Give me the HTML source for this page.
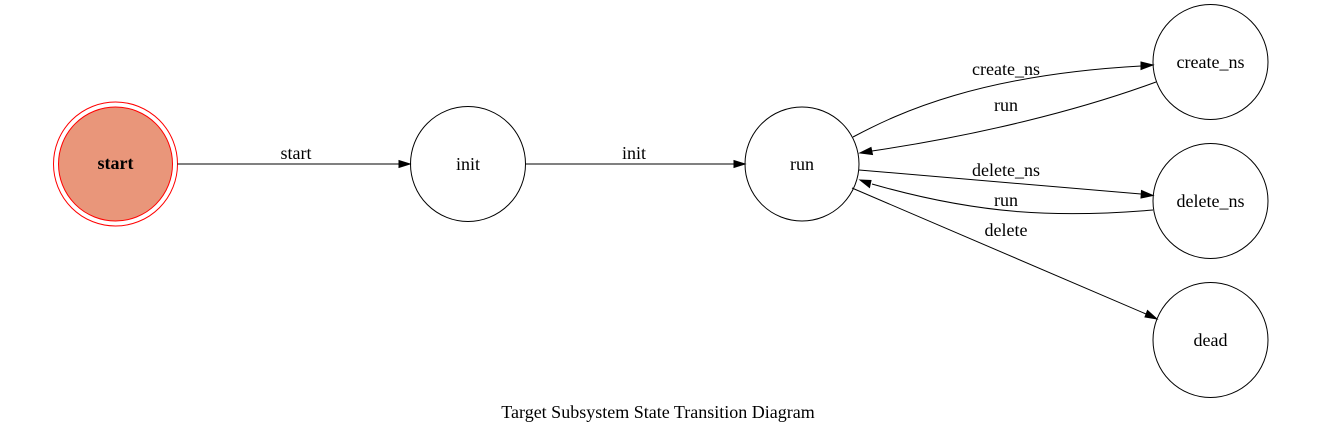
<!DOCTYPE html>
<html><head><meta charset="utf-8"><style>
html,body{margin:0;padding:0;background:#fff;}
svg{display:block;}
text{font-family:"Liberation Serif",serif;font-size:18px;fill:#000;text-anchor:middle;}
</style></head><body>
<svg width="1317" height="433" viewBox="0 0 1317 433" xmlns="http://www.w3.org/2000/svg">
<g fill="none" stroke="#000" stroke-width="1">
<circle cx="115.5" cy="164" r="62" stroke="red"/>
<circle cx="115.5" cy="164" r="57" stroke="red" fill="#e9967a"/>
<circle cx="468" cy="164" r="57.5"/>
<circle cx="802" cy="164" r="57"/>
<circle cx="1210.5" cy="62" r="57.5"/>
<circle cx="1210.5" cy="201" r="57.5"/>
<circle cx="1210.5" cy="340" r="57.5"/>
<path d="M177.5,164 L399,164"/>
<path d="M526,164 L734,164"/>
<path d="M853,137 C900,112 980,75 1141,66"/>
<path d="M1156,82 C1080,110 980,135 872,151"/>
<path d="M859,170 L1141,194"/>
<path d="M1153,210 C1060,218 980,215 872,184"/>
<path d="M852,188 L1146,314"/>
</g>
<g fill="#000" stroke="#000">
<polygon points="410,164 399,160.5 399,167.5"/>
<polygon points="745,164 734,160.5 734,167.5"/>
<polygon points="1153,65 1141,62 1141,69.5"/>
<polygon points="860,153 871,147.5 872.5,154.5"/>
<polygon points="1153,195.5 1141.5,190.5 1141,198"/>
<polygon points="860,180 871,180.5 869.5,187.5"/>
<polygon points="1157,319 1147.5,310.5 1145,317"/>
</g>
<text x="115.5" y="169" font-weight="bold" font-size="15">start</text>
<text x="468" y="170">init</text>
<text x="802" y="170">run</text>
<text x="1210.5" y="68">create_ns</text>
<text x="1210.5" y="207">delete_ns</text>
<text x="1210.5" y="346">dead</text>
<text x="296" y="159">start</text>
<text x="634" y="159">init</text>
<text x="1006" y="75">create_ns</text>
<text x="1006" y="111">run</text>
<text x="1006" y="176">delete_ns</text>
<text x="1006" y="206">run</text>
<text x="1006" y="236">delete</text>
<text x="658" y="418">Target Subsystem State Transition Diagram</text>
</svg>
</body></html>
